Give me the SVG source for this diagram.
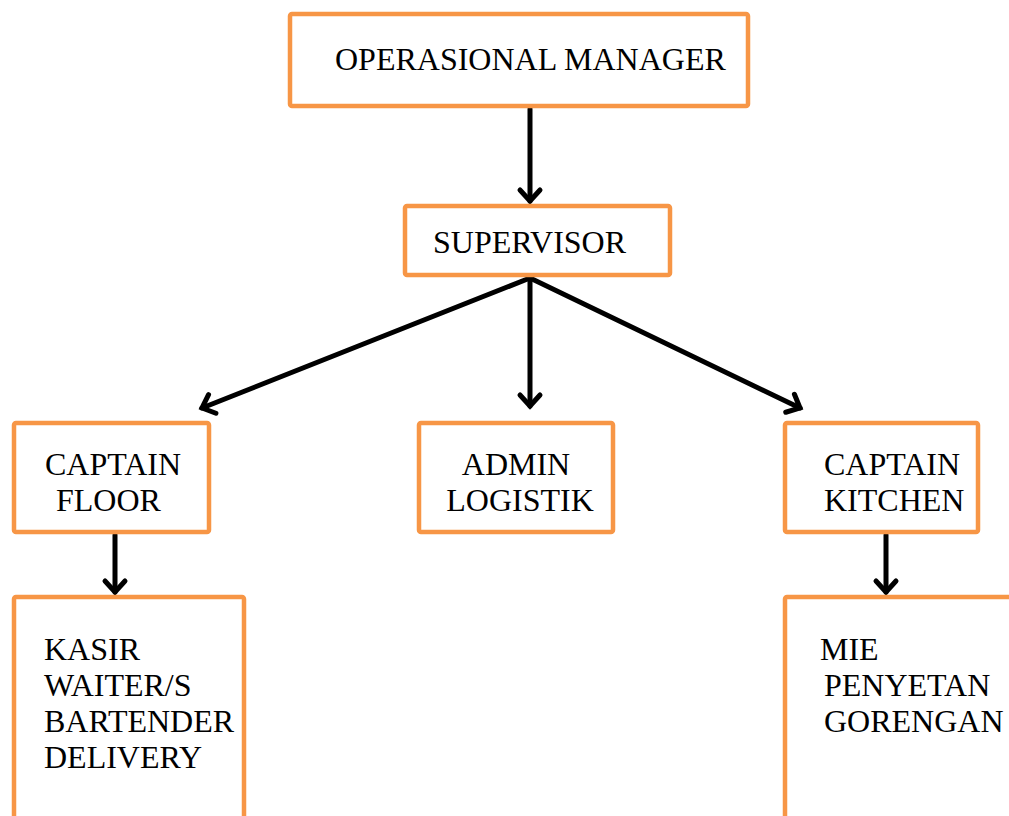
<svg xmlns="http://www.w3.org/2000/svg" width="1009" height="816" viewBox="0 0 1009 816">
<defs>
<style>
.box{fill:#fff;stroke:#F79646;stroke-width:4.5}
.t{font-family:"Liberation Serif","Times New Roman",serif;font-size:32px;fill:#000}
.c{fill:none;stroke:#000;stroke-width:5;stroke-linecap:round}
</style>
<marker id="ah" markerUnits="userSpaceOnUse" markerWidth="30" markerHeight="30" viewBox="-15 -15 30 30" refX="0" refY="0" orient="auto">
<path d="M-11,-10 L0,0 L-11,10" fill="none" stroke="#000" stroke-width="5" stroke-linecap="round" stroke-linejoin="miter"/>
</marker>
</defs>
<rect width="1009" height="816" fill="#fff"/>
<g id="connectors">
<line class="c" x1="530" y1="109" x2="530" y2="201" marker-end="url(#ah)"/>
<line class="c" x1="530" y1="278" x2="202" y2="408" marker-end="url(#ah)"/>
<line class="c" x1="530" y1="278" x2="530" y2="406" marker-end="url(#ah)"/>
<line class="c" x1="530" y1="278" x2="800" y2="408" marker-end="url(#ah)"/>
<line class="c" x1="115" y1="535" x2="115" y2="592" marker-end="url(#ah)"/>
<line class="c" x1="886" y1="535" x2="886" y2="592" marker-end="url(#ah)"/>
</g>
<g id="operasional-manager">
<rect class="box" x="290" y="14" width="458" height="92" rx="2"/>
<text class="t" x="335" y="70">OPERASIONAL MANAGER</text>
</g>
<g id="supervisor">
<rect class="box" x="405" y="206" width="265" height="69" rx="2"/>
<text class="t" x="433" y="253">SUPERVISOR</text>
</g>
<g id="captain-floor">
<rect class="box" x="14" y="423" width="195" height="109" rx="2"/>
<text class="t" x="45" y="475">CAPTAIN</text>
<text class="t" x="56" y="511">FLOOR</text>
</g>
<g id="admin-logistik">
<rect class="box" x="419" y="423" width="194" height="109" rx="2"/>
<text class="t" x="516" y="475" text-anchor="middle">ADMIN</text>
<text class="t" x="520" y="511" text-anchor="middle">LOGISTIK</text>
</g>
<g id="captain-kitchen">
<rect class="box" x="785" y="423" width="193" height="109" rx="2"/>
<text class="t" x="824" y="475">CAPTAIN</text>
<text class="t" x="824" y="511">KITCHEN</text>
</g>
<g id="floor-staff">
<rect class="box" x="14" y="597" width="230" height="240" rx="2"/>
<text class="t" x="44" y="660">KASIR</text>
<text class="t" x="44" y="696">WAITER/S</text>
<text class="t" x="44" y="732">BARTENDER</text>
<text class="t" x="44" y="768">DELIVERY</text>
</g>
<g id="kitchen-staff">
<rect class="box" x="785" y="597" width="240" height="240" rx="2"/>
<text class="t" x="820" y="660">MIE</text>
<text class="t" x="824" y="696">PENYETAN</text>
<text class="t" x="824" y="732">GORENGAN</text>
</g>
</svg>
